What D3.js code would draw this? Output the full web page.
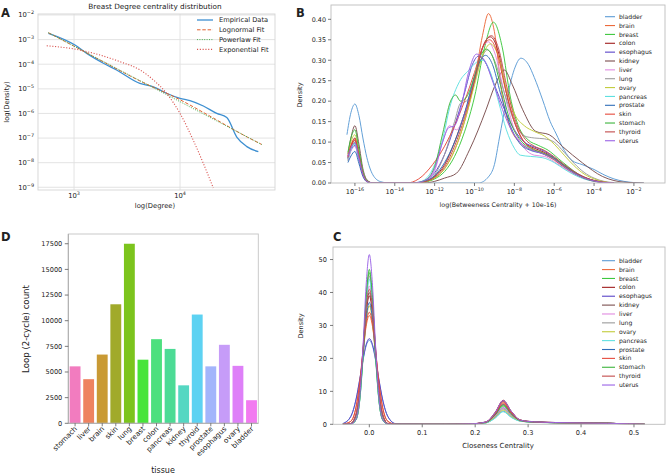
<!DOCTYPE html>
<html><head><meta charset="utf-8">
<script src="https://cdn.jsdelivr.net/npm/d3@7"></script>
<style>body{margin:0;background:#fff} svg{display:block} text{font-family:"DejaVu Sans",sans-serif;fill:#222}</style>
</head><body><svg id="c" width="667" height="476"></svg>
<script>
// ---------------- DATA ----------------
// Panel A (degree distribution of breast network)
const empDegree  = [573,1020,1318,1890,2520,4180,5600,7450,10000,12400,16600,22200,27600,34300,42700,54800];
const empDensity = [1.8e-3,6.0e-4,2.75e-4,1.1e-4,5.8e-5,1.65e-5,1.2e-5,6.6e-6,4.1e-6,3.3e-6,2.0e-6,1.0e-6,6.9e-7,1.1e-7,4.5e-8,2.8e-8];
const lognDegree  = [573,1000,2000,4180,10000,20000,40000,58900];
const lognDensity = [1.9e-3,5.4e-4,1.1e-4,2.1e-5,3.6e-6,7.0e-7,1.3e-7,5.5e-8];
const powDegree  = [573,58900];
const powDensity = [1.9e-3,5.5e-8];
const expDegree  = [552,1020,1760,2720,4200,5600,7450,10000,13300,16600,20600];
const expDensity = [5.6e-4,4.1e-4,2.35e-4,1.26e-4,5.8e-5,2.3e-5,6.6e-6,1.0e-6,8.3e-8,9.3e-9,9.3e-10];
const aLegend = ["Empirical Data","Lognormal Fit","Powerlaw Fit","Exponential Fit"];
const aXTickExp = [3,4];
const aYTickExp = [-2,-3,-4,-5,-6,-7,-8,-9];

// Tissues (panels B and C)
const tissues = ["bladder","brain","breast","colon","esophagus","kidney","liver","lung","ovary","pancreas","prostate","skin","stomach","thyroid","uterus"];
const tissueColors = ["#5b9bd5","#ec6a3c","#3ec83e","#a01c1c","#5a44c8","#7a4e4e","#e08ae0","#9a9a9a","#c2cc3a","#5fe0e0","#2f6db8","#e64a3c","#3cb43c","#c24a4a","#9a62e6"];

// Panel B: [log10(betweenness + 1e-16), density]
const bcBladder = [[-16.4,0.118],[-16.2,0.172],[-16.0,0.193],[-15.8,0.165],[-15.6,0.11],[-15.4,0.062],[-15.1,0.02],[-14.7,0.003],[-14.3,0],[-9.8,0],[-9.3,0.015],[-9.0,0.045],[-8.75,0.11],[-8.4,0.2],[-8.0,0.278],[-7.67,0.305],[-7.3,0.29],[-7.0,0.258],[-6.58,0.203],[-6.2,0.15],[-5.92,0.122],[-5.5,0.08],[-5.1,0.055],[-4.6,0.045],[-4.0,0.033],[-3.5,0.02],[-3.0,0.01],[-2.5,0.004],[-2.0,0.001],[-1.5,0]];
const bcBrain = [[-16.35,0.06],[-16.2,0.088],[-16.0,0.105],[-15.8,0.065],[-15.6,0.022],[-15.4,0.004],[-15.1,0],[-13.0,0],[-12.5,0.003],[-12.0,0.012],[-11.5,0.035],[-11.0,0.08],[-10.5,0.15],[-10.0,0.25],[-9.6,0.36],[-9.3,0.414],[-9.0,0.37],[-8.6,0.21],[-8.2,0.135],[-7.7,0.098],[-7.2,0.082],[-6.6,0.072],[-6.0,0.056],[-5.5,0.038],[-5.0,0.022],[-4.5,0.011],[-4.0,0.004],[-3.5,0.001],[-3.0,0]];
const bcBreast = [[-16.35,0.055],[-16.2,0.082],[-16.0,0.098],[-15.8,0.06],[-15.6,0.02],[-15.4,0.004],[-15.1,0],[-13.0,0],[-12.5,0.002],[-12.0,0.01],[-11.5,0.028],[-11.0,0.065],[-10.5,0.125],[-10.0,0.21],[-9.5,0.33],[-9.05,0.393],[-8.6,0.33],[-8.2,0.21],[-7.8,0.14],[-7.3,0.105],[-6.8,0.092],[-6.3,0.08],[-5.8,0.06],[-5.3,0.04],[-4.8,0.022],[-4.3,0.01],[-3.8,0.004],[-3.0,0]];
const bcColon = [[-16.35,0.065],[-16.2,0.09],[-16.0,0.11],[-15.8,0.07],[-15.6,0.024],[-15.4,0.005],[-15.1,0],[-13.0,0],[-12.5,0.004],[-12.0,0.016],[-11.5,0.045],[-11.0,0.1],[-10.5,0.17],[-10.0,0.25],[-9.6,0.33],[-9.2,0.357],[-8.8,0.32],[-8.4,0.22],[-8.0,0.15],[-7.5,0.1],[-7.0,0.085],[-6.5,0.075],[-6.0,0.06],[-5.5,0.042],[-5.0,0.026],[-4.5,0.014],[-4.0,0.006],[-3.5,0.002],[-3.0,0]];
const bcEsophagus = [[-16.35,0.06],[-16.2,0.08],[-16.0,0.092],[-15.8,0.058],[-15.6,0.02],[-15.4,0.004],[-15.1,0],[-13.2,0],[-12.5,0.006],[-12.0,0.025],[-11.5,0.07],[-11.0,0.14],[-10.5,0.22],[-10.1,0.29],[-9.8,0.31],[-9.4,0.29],[-9.0,0.24],[-8.5,0.18],[-8.0,0.13],[-7.5,0.1],[-7.0,0.088],[-6.5,0.078],[-6.0,0.062],[-5.5,0.044],[-5.0,0.027],[-4.5,0.014],[-4.0,0.006],[-3.5,0.002],[-3.0,0]];
const bcKidney = [[-16.35,0.07],[-16.2,0.11],[-16.0,0.14],[-15.8,0.095],[-15.6,0.035],[-15.4,0.008],[-15.1,0],[-12.5,0],[-12.0,0.004],[-11.5,0.012],[-10.9,0.024],[-10.25,0.081],[-9.42,0.179],[-9.0,0.235],[-8.5,0.276],[-8.1,0.24],[-7.58,0.179],[-6.92,0.126],[-6.25,0.118],[-5.58,0.089],[-4.58,0.049],[-3.58,0.016],[-3.0,0.006],[-2.5,0.002],[-1.5,0]];
const bcLiver = [[-16.35,0.055],[-16.2,0.078],[-16.0,0.09],[-15.8,0.056],[-15.6,0.019],[-15.4,0.004],[-15.1,0],[-13.0,0],[-12.5,0.005],[-12.0,0.03],[-11.6,0.1],[-11.25,0.14],[-10.9,0.13],[-10.5,0.17],[-10.0,0.26],[-9.6,0.33],[-9.3,0.345],[-9.0,0.32],[-8.5,0.22],[-8.0,0.13],[-7.5,0.085],[-7.0,0.068],[-6.5,0.065],[-6.0,0.052],[-5.5,0.036],[-5.0,0.022],[-4.5,0.011],[-4.0,0.004],[-3.5,0.001],[-3.0,0]];
const bcLung = [[-16.35,0.06],[-16.2,0.085],[-16.0,0.1],[-15.8,0.062],[-15.6,0.021],[-15.4,0.004],[-15.1,0],[-13.0,0],[-12.5,0.004],[-12.0,0.02],[-11.5,0.07],[-11.0,0.15],[-10.7,0.195],[-10.4,0.2],[-10.0,0.25],[-9.6,0.31],[-9.35,0.325],[-9.0,0.3],[-8.5,0.22],[-8.0,0.15],[-7.5,0.115],[-7.0,0.11],[-6.5,0.108],[-6.0,0.1],[-5.5,0.075],[-5.0,0.048],[-4.5,0.026],[-4.0,0.012],[-3.5,0.004],[-3.0,0.001],[-2.5,0]];
const bcOvary = [[-16.35,0.07],[-16.2,0.1],[-16.0,0.118],[-15.8,0.075],[-15.6,0.026],[-15.4,0.005],[-15.1,0],[-13.0,0],[-12.5,0.003],[-12.0,0.012],[-11.5,0.035],[-11.0,0.08],[-10.5,0.15],[-10.0,0.24],[-9.6,0.31],[-9.2,0.34],[-8.8,0.31],[-8.4,0.23],[-8.0,0.17],[-7.5,0.14],[-7.0,0.126],[-6.5,0.115],[-6.0,0.095],[-5.5,0.068],[-5.0,0.042],[-4.5,0.022],[-4.0,0.01],[-3.5,0.003],[-3.0,0]];
const bcPancreas = [[-16.35,0.06],[-16.2,0.082],[-16.0,0.095],[-15.8,0.06],[-15.6,0.02],[-15.4,0.004],[-15.1,0],[-13.0,0],[-12.5,0.008],[-12.0,0.045],[-11.58,0.11],[-11.25,0.183],[-10.75,0.248],[-10.3,0.275],[-9.9,0.295],[-9.6,0.3],[-9.2,0.27],[-8.8,0.2],[-8.4,0.13],[-8.0,0.085],[-7.7,0.068],[-7.2,0.065],[-6.6,0.062],[-6.0,0.05],[-5.5,0.034],[-5.0,0.02],[-4.5,0.01],[-4.0,0.004],[-3.5,0.001],[-3.0,0]];
const bcProstate = [[-16.35,0.05],[-16.2,0.066],[-16.0,0.077],[-15.8,0.048],[-15.6,0.016],[-15.4,0.003],[-15.1,0],[-13.0,0],[-12.5,0.004],[-12.0,0.018],[-11.5,0.05],[-11.0,0.1],[-10.5,0.17],[-10.0,0.26],[-9.7,0.3],[-9.45,0.312],[-9.1,0.29],[-8.7,0.22],[-8.2,0.14],[-7.7,0.095],[-7.2,0.08],[-6.6,0.072],[-6.0,0.058],[-5.5,0.04],[-5.0,0.024],[-4.5,0.012],[-4.0,0.005],[-3.5,0.001],[-3.0,0]];
const bcSkin = [[-16.35,0.065],[-16.2,0.092],[-16.0,0.108],[-15.8,0.068],[-15.6,0.023],[-15.4,0.005],[-15.1,0],[-13.4,0],[-12.8,0.01],[-12.1,0.045],[-11.5,0.09],[-11.0,0.14],[-10.5,0.2],[-10.0,0.27],[-9.6,0.33],[-9.25,0.35],[-8.9,0.325],[-8.5,0.24],[-8.0,0.15],[-7.5,0.1],[-7.0,0.082],[-6.5,0.072],[-6.0,0.058],[-5.5,0.04],[-5.0,0.024],[-4.5,0.012],[-4.0,0.005],[-3.5,0.001],[-3.0,0]];
const bcStomach = [[-16.35,0.075],[-16.2,0.11],[-16.0,0.13],[-15.8,0.082],[-15.6,0.028],[-15.4,0.006],[-15.1,0],[-13.0,0],[-12.5,0.006],[-12.0,0.04],[-11.6,0.12],[-11.2,0.2],[-10.95,0.215],[-10.7,0.2],[-10.4,0.21],[-10.0,0.26],[-9.7,0.31],[-9.4,0.327],[-9.1,0.31],[-8.7,0.24],[-8.2,0.15],[-7.7,0.105],[-7.2,0.085],[-6.6,0.074],[-6.0,0.06],[-5.5,0.042],[-5.0,0.025],[-4.5,0.012],[-4.0,0.005],[-3.5,0.001],[-3.0,0]];
const bcThyroid = [[-16.35,0.062],[-16.2,0.088],[-16.0,0.104],[-15.8,0.066],[-15.6,0.022],[-15.4,0.004],[-15.1,0],[-13.0,0],[-12.5,0.003],[-12.0,0.014],[-11.5,0.04],[-11.0,0.09],[-10.5,0.16],[-10.0,0.25],[-9.6,0.33],[-9.15,0.36],[-8.8,0.33],[-8.4,0.24],[-8.0,0.16],[-7.5,0.11],[-7.0,0.09],[-6.5,0.08],[-6.0,0.064],[-5.5,0.045],[-5.0,0.028],[-4.5,0.015],[-4.0,0.006],[-3.5,0.002],[-3.0,0]];
const bcUterus = [[-16.35,0.065],[-16.2,0.086],[-16.0,0.098],[-15.8,0.062],[-15.6,0.021],[-15.4,0.004],[-15.1,0],[-13.0,0],[-12.5,0.006],[-12.0,0.035],[-11.6,0.1],[-11.3,0.135],[-11.0,0.14],[-10.7,0.18],[-10.3,0.27],[-9.9,0.315],[-9.5,0.3],[-9.1,0.25],[-8.6,0.18],[-8.1,0.125],[-7.6,0.095],[-7.1,0.08],[-6.6,0.072],[-6.0,0.058],[-5.5,0.04],[-5.0,0.024],[-4.5,0.012],[-4.0,0.005],[-3.5,0.001],[-3.0,0]];
const bXTickExp = [-16,-14,-12,-10,-8,-6,-4,-2];
const bYTicks = [0,0.05,0.10,0.15,0.20,0.25,0.30,0.35,0.40];

// Panel C: closeness grid and densities
const ccGrid = [-0.05,-0.035,-0.025,-0.018,-0.012,-0.006,0,0.006,0.012,0.018,0.025,0.035,0.05,0.14,0.19,0.22,0.238,0.253,0.268,0.285,0.31,0.35,0.4,0.45,0.49,0.52];
const ccBladder   = [0.19,2.35,7.5,13.5,19.3,23.8,25.5,23.8,19.3,13.5,7.5,2.35,0.19,0,0.08,0.45,2.0,4.0,2.2,1.0,0.65,0.5,0.38,0.3,0.15,0];
const ccBrain     = [0.02,0.9,5.2,12.6,21.5,29.7,33,29.7,21.5,12.6,5.2,0.9,0.02,0,0.1,0.6,3.2,6.5,3.6,1.2,0.7,0.5,0.38,0.3,0.15,0];
const ccBreast    = [0,0.05,1.4,7.6,20.7,37.7,46,37.7,20.7,7.6,1.4,0.05,0,0,0.1,0.55,2.8,5.5,3.0,1.1,0.65,0.5,0.38,0.3,0.15,0];
const ccColon     = [0,0.23,3.0,10.1,21.5,33.5,39,33.5,21.5,10.1,3.0,0.23,0,0,0.12,0.7,3.7,7.3,4.0,1.3,0.75,0.55,0.4,0.3,0.15,0];
const ccEsophagus = [0.2,2.4,7.7,13.8,19.6,24.2,26,24.2,19.6,13.8,7.7,2.4,0.2,0,0.1,0.5,2.5,5.0,2.8,1.1,0.7,0.5,0.38,0.3,0.15,0];
const ccKidney    = [0,0.24,3.0,10.4,22,34.4,40,34.4,22,10.4,3.0,0.24,0,0,0.12,0.7,3.5,7.0,3.9,1.3,0.8,0.55,0.4,0.3,0.15,0];
const ccLiver     = [0,0.25,3.2,10.9,23.1,36.1,42,36.1,23.1,10.9,3.2,0.25,0,0,0.1,0.5,2.5,5.0,2.8,1.1,0.65,0.5,0.38,0.3,0.15,0];
const ccLung      = [0,0.05,1.4,7.5,20.3,36.9,45,36.9,20.3,7.5,1.4,0.05,0,0,0.1,0.45,2.3,4.6,2.6,1.0,0.65,0.5,0.38,0.3,0.15,0];
const ccOvary     = [0,0.22,2.7,9.4,19.8,31,36,31,19.8,9.4,2.7,0.22,0,0,0.08,0.42,2.2,4.3,2.4,1.0,0.6,0.48,0.36,0.28,0.14,0];
const ccPancreas  = [0,0.04,1.4,7.3,19.8,36.1,44,36.1,19.8,7.3,1.4,0.04,0,0,0.08,0.4,1.9,3.8,2.1,0.95,0.6,0.46,0.36,0.28,0.14,0];
const ccProstate  = [0,0.22,2.8,9.6,20.4,31.8,37,31.8,20.4,9.6,2.8,0.22,0,0,0.1,0.6,3.0,6.0,3.3,1.2,0.7,0.5,0.38,0.3,0.15,0];
const ccSkin      = [0.02,0.92,5.3,13,22.2,30.6,34,30.6,22.2,13,5.3,0.92,0.02,0,0.12,0.65,3.4,6.8,3.8,1.3,0.75,0.52,0.4,0.3,0.15,0];
const ccStomach   = [0,0.05,1.5,7.8,21.2,38.5,47,38.5,21.2,7.8,1.5,0.05,0,0,0.1,0.55,2.9,5.8,3.2,1.15,0.7,0.5,0.38,0.3,0.15,0];
const ccThyroid   = [0,0.25,3.1,10.7,22.6,35.3,41,35.3,22.6,10.7,3.1,0.25,0,0,0.1,0.6,3.1,6.2,3.4,1.2,0.7,0.5,0.38,0.3,0.15,0];
const ccUterus    = [0,0.05,1.6,8.5,23.2,42.2,51.5,42.2,23.2,8.5,1.6,0.05,0,0,0.12,0.7,3.6,7.2,4.0,1.3,0.75,0.55,0.4,0.3,0.15,0];
const cXTicks = [0,0.1,0.2,0.3,0.4,0.5];
const cYTicks = [0,10,20,30,40,50];

// Panel D: loop counts
const barTissues = ["stomach","liver","brain","skin","lung","breast","colon","pancreas","kidney","thyroid","prostate","esophagus","ovary","bladder"];
const loopCounts = [5550,4300,6700,11600,17500,6200,8200,7250,3700,10600,5550,7650,5600,2250];
const barColors = ["#f27cbf","#ee8260","#c99a34","#a1aa2a","#7cc41d","#48e43a","#4ce07e","#4cdb95","#55d7c2","#5dd2f2","#a3b5fb","#c69cf8","#de80f8","#f27af0"];
const dYTicks = [0,2500,5000,7500,10000,12500,15000,17500];

// ---------------- DRAW ----------------
const svg = d3.select('#c');
const defs = svg.append('defs');
function clip(id,x,y,w,h){defs.append('clipPath').attr('id',id).append('rect').attr('x',x).attr('y',y).attr('width',w).attr('height',h);}
function supText(g,x,y,base,exp,fs,anchor){
  const t=g.append('text').attr('x',x).attr('y',y).attr('font-size',fs).attr('text-anchor',anchor);
  t.append('tspan').text(base);
  t.append('tspan').attr('dy',-fs*0.45).attr('font-size',fs*0.72).text(exp);
  return t;
}
function panelLabel(t,x,y){svg.append('text').attr('x',x).attr('y',y).attr('font-size',11.5).attr('font-weight','bold').text(t);}
const zip=(a,b)=>a.map((v,i)=>[v,b[i]]);

// ----- Panel A
const A={l:38,r:275,t:14,b:190};
const aX=d3.scaleLog().domain([457,78700]).range([A.l,A.r]);
const aY=d3.scaleLog().domain([Math.pow(10,-9.11),Math.pow(10,-1.96)]).range([A.b,A.t]);
const gA=svg.append('g');
gA.append('rect').attr('x',A.l).attr('y',A.t).attr('width',A.r-A.l).attr('height',A.b-A.t).attr('fill','#fff');
aXTickExp.forEach(e=>gA.append('line').attr('x1',aX(Math.pow(10,e))).attr('x2',aX(Math.pow(10,e))).attr('y1',A.t).attr('y2',A.b).attr('stroke','#e0e0e0').attr('stroke-width',0.9));
aYTickExp.forEach(e=>gA.append('line').attr('y1',aY(Math.pow(10,e))).attr('y2',aY(Math.pow(10,e))).attr('x1',A.l).attr('x2',A.r).attr('stroke','#e0e0e0').attr('stroke-width',0.9));
gA.append('rect').attr('x',A.l).attr('y',A.t).attr('width',A.r-A.l).attr('height',A.b-A.t).attr('fill','none').attr('stroke','#d4d4d4').attr('stroke-width',0.9);
aXTickExp.forEach(e=>supText(gA,aX(Math.pow(10,e)),198,'10',String(e),6.8,'middle'));
aYTickExp.forEach(e=>supText(gA,34,aY(Math.pow(10,e))+2.4,'10',(e<0?'\u2212':'')+Math.abs(e),6.8,'end'));
gA.append('text').attr('x',155).attr('y',8.5).attr('text-anchor','middle').attr('font-size',7.3).text('Breast Degree centrality distribution');
gA.append('text').attr('x',155).attr('y',208).attr('text-anchor','middle').attr('font-size',6.8).text('log(Degree)');
gA.append('text').attr('transform','translate(9,102) rotate(-90)').attr('text-anchor','middle').attr('font-size',6.8).text('log(Density)');
clip('clipA',A.l,A.t,A.r-A.l,A.b-A.t);
const gAp=gA.append('g').attr('clip-path','url(#clipA)');
const aLine=d3.line().x(d=>aX(d[0])).y(d=>aY(d[1]));
const aSmooth=d3.line().x(d=>aX(d[0])).y(d=>aY(d[1])).curve(d3.curveMonotoneX);
const aStyles=[{c:'#3d8fd1',w:1.3,da:null},{c:'#e0622f',w:1.0,da:'3.5,1.8'},{c:'#4caf50',w:1.0,da:'1,1.4'},{c:'#d9534f',w:1.1,da:'1.1,1.7'}];
gAp.append('path').attr('d',aSmooth(zip(empDegree,empDensity))).attr('fill','none').attr('stroke',aStyles[0].c).attr('stroke-width',aStyles[0].w);
gAp.append('path').attr('d',aSmooth(zip(lognDegree,lognDensity))).attr('fill','none').attr('stroke',aStyles[1].c).attr('stroke-width',aStyles[1].w).attr('stroke-dasharray',aStyles[1].da);
gAp.append('path').attr('d',aLine(zip(powDegree,powDensity))).attr('fill','none').attr('stroke',aStyles[2].c).attr('stroke-width',aStyles[2].w).attr('stroke-dasharray',aStyles[2].da);
gAp.append('path').attr('d',aSmooth(zip(expDegree,expDensity))).attr('fill','none').attr('stroke',aStyles[3].c).attr('stroke-width',aStyles[3].w).attr('stroke-dasharray',aStyles[3].da);
aLegend.forEach((name,i)=>{
  const y=20+i*9.8;
  gA.append('line').attr('x1',197).attr('x2',213).attr('y1',y).attr('y2',y).attr('stroke',aStyles[i].c).attr('stroke-width',aStyles[i].w).attr('stroke-dasharray',aStyles[i].da);
  gA.append('text').attr('x',219).attr('y',y+2.3).attr('font-size',6.7).text(name);
});
panelLabel('A',1,17);

// ----- Panel B
const B={l:331,r:665,t:5,b:183};
const bX=d3.scaleLog().domain([Math.pow(10,-17.2),Math.pow(10,-0.44)]).range([B.l,B.r]);
const bY=d3.scaleLinear().domain([0,0.435]).range([B.b,B.t]);
const gB=svg.append('g');
clip('clipB',B.l,B.t,B.r-B.l,B.b-B.t);
const gBp=gB.append('g').attr('clip-path','url(#clipB)');
const bSeries=[bcBladder,bcBrain,bcBreast,bcColon,bcEsophagus,bcKidney,bcLiver,bcLung,bcOvary,bcPancreas,bcProstate,bcSkin,bcStomach,bcThyroid,bcUterus];
const bLine=d3.line().x(d=>bX(Math.pow(10,d[0]))).y(d=>bY(d[1])).curve(d3.curveMonotoneX);
bSeries.forEach((s,i)=>gBp.append('path').attr('d',bLine(s)).attr('fill','none').attr('stroke',tissueColors[i]).attr('stroke-width',0.95));
gB.append('rect').attr('x',B.l).attr('y',B.t).attr('width',B.r-B.l).attr('height',B.b-B.t).attr('fill','none').attr('stroke','#bdbdbd').attr('stroke-width',0.9);
bXTickExp.forEach(e=>{const x=bX(Math.pow(10,e));gB.append('line').attr('x1',x).attr('x2',x).attr('y1',B.b).attr('y2',B.b+3).attr('stroke','#444').attr('stroke-width',0.7);
  supText(gB,x,193.5,'10','\u2212'+Math.abs(e),6.6,'middle');});
bYTicks.forEach(v=>{const y=bY(v);gB.append('line').attr('x1',B.l-3).attr('x2',B.l).attr('y1',y).attr('y2',y).attr('stroke','#444').attr('stroke-width',0.7);
  gB.append('text').attr('x',B.l-5).attr('y',y+2.3).attr('text-anchor','end').attr('font-size',6.4).text(d3.format('.2f')(v));});
gB.append('text').attr('x',498).attr('y',206.5).attr('text-anchor','middle').attr('font-size',6.3).text('log(Betweeness Centrality + 10e-16)');
gB.append('text').attr('transform','translate(302,95) rotate(-90)').attr('text-anchor','middle').attr('font-size',6.6).text('Density');
tissues.forEach((t,i)=>{const y=16.7+i*8.86;
  gB.append('line').attr('x1',605).attr('x2',615).attr('y1',y).attr('y2',y).attr('stroke',tissueColors[i]).attr('stroke-width',1.1);
  gB.append('text').attr('x',619).attr('y',y+2.1).attr('font-size',6.1).text(t);});
panelLabel('B',296,17);

// ----- Panel C
const C={l:333,r:665,t:247,b:424.3};
const cX=d3.scaleLinear().domain([-0.0686,0.5586]).range([C.l,C.r]);
const cY=d3.scaleLinear().domain([0,53.8]).range([C.b,C.t]);
const gC=svg.append('g');
clip('clipC',C.l,C.t,C.r-C.l,C.b-C.t);
const gCp=gC.append('g').attr('clip-path','url(#clipC)');
const cSeries=[ccBladder,ccBrain,ccBreast,ccColon,ccEsophagus,ccKidney,ccLiver,ccLung,ccOvary,ccPancreas,ccProstate,ccSkin,ccStomach,ccThyroid,ccUterus];
const cLine=d3.line().x(d=>cX(d[0])).y(d=>cY(d[1])).curve(d3.curveMonotoneX);
cSeries.forEach((s,i)=>gCp.append('path').attr('d',cLine(zip(ccGrid,s))).attr('fill','none').attr('stroke',tissueColors[i]).attr('stroke-width',0.95));
gC.append('rect').attr('x',C.l).attr('y',C.t).attr('width',C.r-C.l).attr('height',C.b-C.t).attr('fill','none').attr('stroke','#bdbdbd').attr('stroke-width',0.9);
cXTicks.forEach(v=>{const x=cX(v);gC.append('line').attr('x1',x).attr('x2',x).attr('y1',C.b).attr('y2',C.b+3).attr('stroke','#444').attr('stroke-width',0.7);
  gC.append('text').attr('x',x).attr('y',434.5).attr('text-anchor','middle').attr('font-size',6.6).text(d3.format('.1f')(v));});
cYTicks.forEach(v=>{const y=cY(v);gC.append('line').attr('x1',C.l-3).attr('x2',C.l).attr('y1',y).attr('y2',y).attr('stroke','#444').attr('stroke-width',0.7);
  gC.append('text').attr('x',C.l-6).attr('y',y+2.3).attr('text-anchor','end').attr('font-size',6.6).text(v);});
gC.append('text').attr('x',498).attr('y',448).attr('text-anchor','middle').attr('font-size',7).text('Closeness Centrality');
gC.append('text').attr('transform','translate(303,326) rotate(-90)').attr('text-anchor','middle').attr('font-size',6.6).text('Density');
tissues.forEach((t,i)=>{const y=260.7+i*8.88;
  gC.append('line').attr('x1',602).attr('x2',615).attr('y1',y).attr('y2',y).attr('stroke',tissueColors[i]).attr('stroke-width',1.1);
  gC.append('text').attr('x',619).attr('y',y+2.1).attr('font-size',6.1).text(t);});
panelLabel('C',333,241);

// ----- Panel D
const D={l:68.3,r:258.3,t:234,b:423.3};
const dX=d3.scaleBand().domain(barTissues).range([D.l,D.r]).paddingInner(0.2).paddingOuter(0.1);
const dY=d3.scaleLinear().domain([0,18450]).range([D.b,D.t]);
const gD=svg.append('g');
gD.selectAll('rect.bar').data(barTissues).enter().append('rect').attr('class','bar')
  .attr('x',d=>dX(d)).attr('width',dX.bandwidth()).attr('y',(d,i)=>dY(loopCounts[i])).attr('height',(d,i)=>D.b-dY(loopCounts[i])).attr('fill',(d,i)=>barColors[i]);
gD.append('rect').attr('x',D.l).attr('y',D.t).attr('width',D.r-D.l).attr('height',D.b-D.t).attr('fill','none').attr('stroke','#c4c4c4').attr('stroke-width',0.9);
gD.append('line').attr('x1',D.l).attr('x2',D.l).attr('y1',D.t).attr('y2',D.b).attr('stroke','#a8a8a8').attr('stroke-width',0.9);
gD.append('line').attr('x1',D.l).attr('x2',D.r).attr('y1',D.b).attr('y2',D.b).attr('stroke','#a8a8a8').attr('stroke-width',0.9);
dYTicks.forEach(v=>{const y=dY(v);gD.append('line').attr('x1',D.l-3.5).attr('x2',D.l).attr('y1',y).attr('y2',y).attr('stroke','#444').attr('stroke-width',0.7);
  gD.append('text').attr('x',D.l-6).attr('y',y+2.3).attr('text-anchor','end').attr('font-size',6.6).text(v);});
barTissues.forEach(t=>{const x=dX(t)+dX.bandwidth()/2;
  gD.append('line').attr('x1',x).attr('x2',x).attr('y1',D.b).attr('y2',D.b+3).attr('stroke','#444').attr('stroke-width',0.7);
  gD.append('text').attr('transform',`translate(${x+2.5},${D.b+6}) rotate(-45)`).attr('text-anchor','end').attr('font-size',7.2).text(t);});
gD.append('text').attr('x',163).attr('y',473).attr('text-anchor','middle').attr('font-size',8).text('tissue');
gD.append('text').attr('transform','translate(29,329) rotate(-90)').attr('text-anchor','middle').attr('font-size',8.6).text('Loop (2-cycle) count');
panelLabel('D',1,241);
</script></body></html>
